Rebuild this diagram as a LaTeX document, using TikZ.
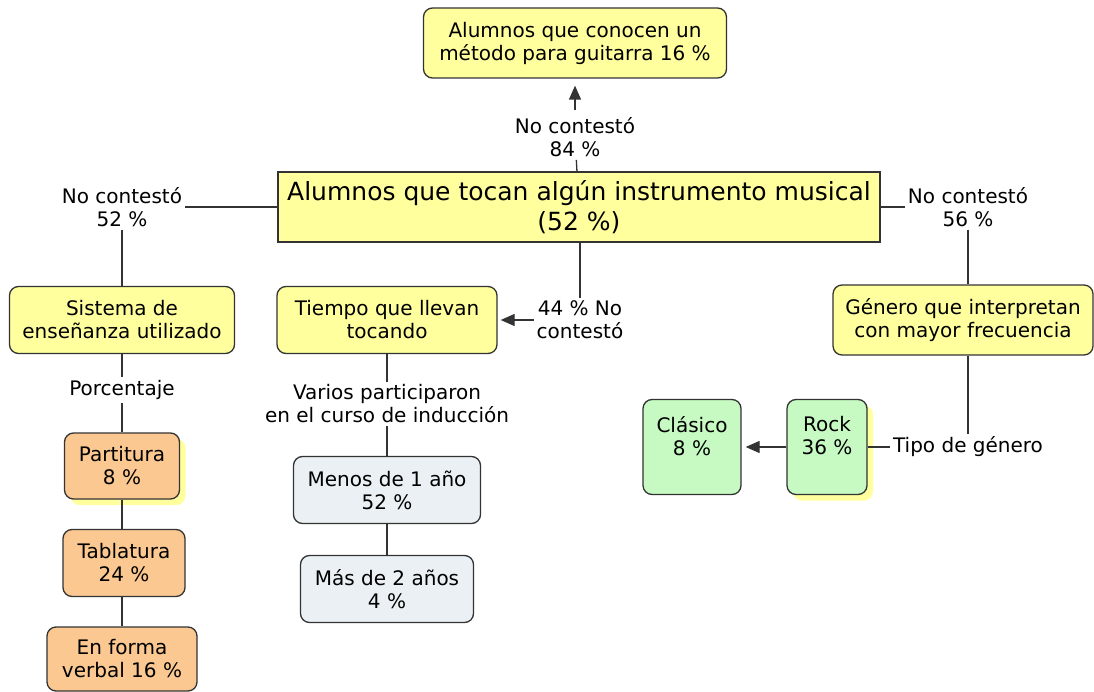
\documentclass[tikz,border=0pt]{standalone}
\usepackage{fontspec}
\setmainfont{DejaVu Sans}
\usetikzlibrary{arrows.meta,shadows}
\definecolor{cyellow}{HTML}{FFFF9E}
\definecolor{corange}{HTML}{FAC890}
\definecolor{cgrey}{HTML}{EAF0F3}
\definecolor{cgreen}{HTML}{C6FAC2}
\definecolor{cline}{HTML}{333333}
\tikzset{
  concept/.style = {shape=rectangle, rounded corners=9pt, draw=cline,
                    line width=1.3pt, align=center, fill=cyellow,
                    inner sep=0pt, font=\fontsize{20}{23}\selectfont},
  root/.style    = {concept, rounded corners=0pt,
                    font=\fontsize{25}{30}\selectfont},
  method/.style  = {concept, fill=corange},
  span/.style    = {concept, fill=cgrey},
  genre/.style   = {concept, fill=cgreen},
  glow/.style    = {drop shadow={shadow xshift=6pt, shadow yshift=-6pt,
                    fill=cyellow, opacity=1}},
  phrase/.style  = {align=center, inner sep=3pt,
                    font=\fontsize{20}{23}\selectfont},
  link/.style    = {draw=cline, line width=1.3pt},
  arrow/.style   = {link, -{Triangle[length=14pt,width=12pt]}}
}
\begin{document}
\begin{tikzpicture}[x=1pt, y=-1pt]
  \useasboundingbox (0,0) rectangle (1094,692);

  \node [root, minimum width=602pt, minimum height=70pt] (main) at (579,207)
    {Alumnos que tocan algún instrumento musical\\(52 \%)};
  \node [concept, minimum width=303pt, minimum height=70pt] (method) at (575,43)
    {Alumnos que conocen un\\método para guitarra 16 \%};
  \node [phrase] (nc84) at (575,137) {No contestó\\84 \%};
  \node [phrase] (nc52) at (122,207) {No contestó\\52 \%};
  \node [phrase] (nc56) at (968,207) {No contestó\\56 \%};
  \node [phrase] (nc44) at (580,320) {44 \% No\\contestó};

  \node [concept, minimum width=225pt, minimum height=67pt] (system) at (122,320)
    {Sistema de\\enseñanza utilizado};
  \node [phrase] (percent) at (122,390) {Porcentaje};
  \node [method, glow, minimum width=115pt, minimum height=66pt] (score) at (122,466)
    {Partitura\\8 \%};
  \node [method, minimum width=122pt, minimum height=67pt] (tab) at (124,563)
    {Tablatura\\24 \%};
  \node [method, minimum width=150pt, minimum height=64pt] (verbal) at (122,659)
    {En forma\\verbal 16 \%};

  \node [concept, minimum width=220pt, minimum height=67pt] (time) at (387,320)
    {Tiempo que llevan\\tocando};
  \node [phrase] (course) at (387,404) {Varios participaron\\en el curso de inducción};
  \node [span, minimum width=187pt, minimum height=67pt] (less1) at (387,490)
    {Menos de 1 año\\52 \%};
  \node [span, minimum width=173pt, minimum height=67pt] (more2) at (387,589)
    {Más de 2 años\\4 \%};

  \node [concept, minimum width=260pt, minimum height=70pt] (genre) at (963,320)
    {Género que interpretan\\con mayor frecuencia};
  \node [phrase] (kind) at (968,447) {Tipo de género};
  \node [genre, glow, minimum width=80pt, minimum height=95pt] (rock) at (827,447)
    {Rock\\36 \%\\~};
  \node [genre, minimum width=98pt, minimum height=95pt] (classic) at (692,447)
    {Clásico\\8 \%\\~};

  \draw [link] (nc84) -- (main);
  \draw [arrow, shorten <=4pt, shorten >=7pt] (nc84) -- (method);
  \draw [link] (nc52) -- (main);
  \draw [link] (nc52) -- (system);
  \draw [link] (system) -- (percent);
  \draw [link] (percent) -- (score);
  \draw [link] (score) -- (score |- tab.north);
  \draw [link] (score.south |- tab.south) -- (score |- verbal.north);
  \draw [link] (main.south -| nc44) -- (nc44);
  \draw [arrow, shorten >=3pt] (nc44) -- (time);
  \draw [link] (time) -- (course);
  \draw [link] (course) -- (less1);
  \draw [link] (less1) -- (more2);
  \draw [link] (main) -- (nc56);
  \draw [link] (nc56) -- (nc56 |- genre.north);
  \draw [link] (nc56 |- genre.south) -- (kind);
  \draw [link] (rock) -- (kind);
  \draw [arrow, shorten >=4pt] (rock) -- (classic);
\end{tikzpicture}
\end{document}
